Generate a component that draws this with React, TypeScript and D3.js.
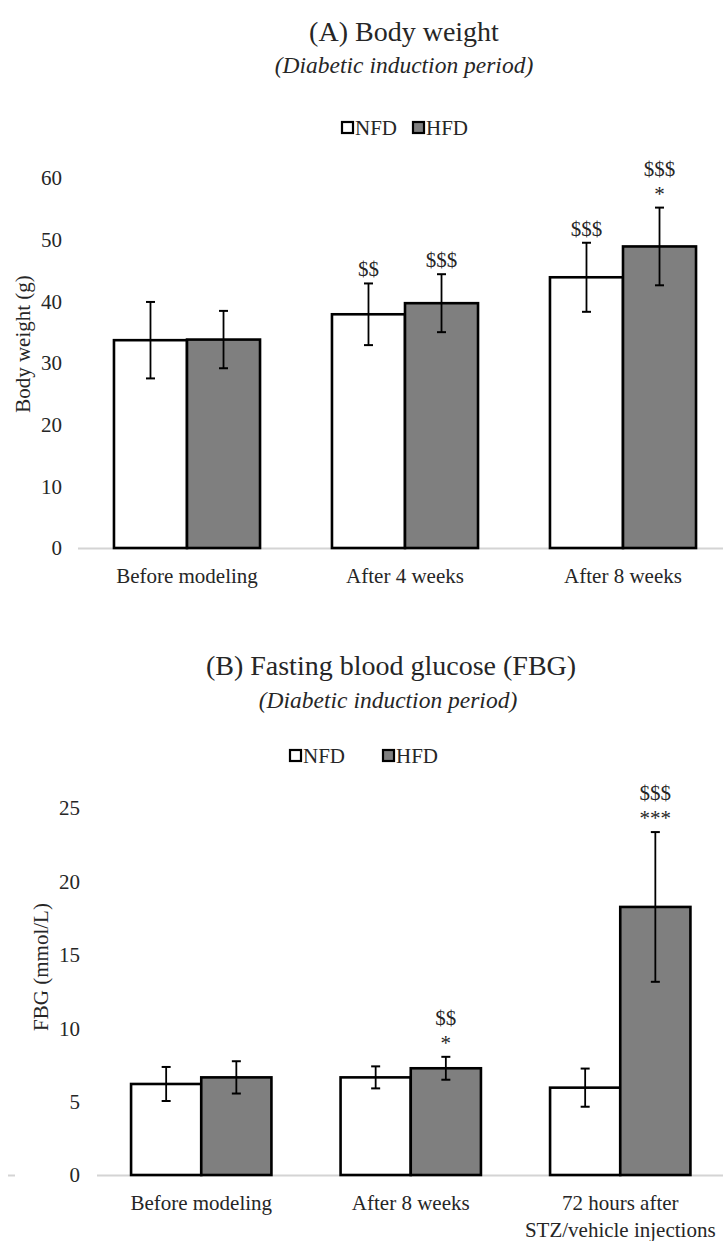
import React from "react";
import * as d3 from "d3";

// ---------- Data ----------
const seriesNames = ["NFD", "HFD"];

const bwCategories = ["Before modeling", "After 4 weeks", "After 8 weeks"];
const bwNFD = [33.7, 37.9, 43.9];
const bwNFDErr = [6.2, 5.0, 5.6];
const bwHFD = [33.8, 39.7, 48.9];
const bwHFDErr = [4.65, 4.7, 6.3];
const bwNFDSig = [[], ["$$"], ["$$$"]];
const bwHFDSig = [[], ["$$$"], ["$$$", "*"]];
const bwTicks = [0, 10, 20, 30, 40, 50, 60];

const fbgCategories = ["Before modeling", "After 8 weeks", "72 hours after\nSTZ/vehicle injections"];
const fbgNFD = [6.2, 6.65, 5.95];
const fbgNFDErr = [1.16, 0.75, 1.3];
const fbgHFD = [6.65, 7.27, 18.26];
const fbgHFDErr = [1.1, 0.78, 5.1];
const fbgNFDSig = [[], [], []];
const fbgHFDSig = [[], ["$$", "*"], ["$$$", "***"]];
const fbgTicks = [0, 5, 10, 15, 20, 25];

const FONT = '"Liberation Serif", "Times New Roman", Times, serif';
const TXT = "#262626";
const FILLS = ["#ffffff", "#7f7f7f"];

type PanelProps = {
  title: string;
  subtitle: string;
  titleX: number;
  titleY: number;
  subtitleX: number;
  subtitleY: number;
  legendX: number[];
  legendY: number;
  yLabel: string;
  yLabelX: number;
  yLabelY: number;
  categories: string[];
  nfd: number[];
  nfdErr: number[];
  hfd: number[];
  hfdErr: number[];
  nfdSig: string[][];
  hfdSig: string[][];
  ticks: number[];
  yMax: number;
  y0: number;
  y1: number;
  x0: number;
  x1: number;
  axisX0: number;
  tickX: number;
  xLabelY: number;
};

function Panel(p: PanelProps) {
  const x = d3
    .scaleBand<string>()
    .domain(p.categories)
    .range([p.x0, p.x1])
    .paddingInner(0.33)
    .paddingOuter(0.165);
  const xs = d3.scaleBand<string>().domain(seriesNames).range([0, x.bandwidth()]).padding(0);
  const y = d3.scaleLinear().domain([0, p.yMax]).range([p.y0, p.y1]);

  const series = [
    { name: "NFD", v: p.nfd, e: p.nfdErr, s: p.nfdSig },
    { name: "HFD", v: p.hfd, e: p.hfdErr, s: p.hfdSig },
  ];

  return (
    <g>
      <text x={p.titleX} y={p.titleY} textAnchor="middle" fontSize={28} fill={TXT} fontFamily={FONT}>
        {p.title}
      </text>
      <text
        x={p.subtitleX}
        y={p.subtitleY}
        textAnchor="middle"
        fontSize={23.5}
        fontStyle="italic"
        fill={TXT}
        fontFamily={FONT}
      >
        {p.subtitle}
      </text>
      {/* legend */}
      {seriesNames.map((n, i) => (
        <g key={n}>
          <rect
            x={p.legendX[i] + 1}
            y={p.legendY - 13}
            width={11}
            height={11}
            fill={FILLS[i]}
            stroke="#000"
            strokeWidth={2.2}
          />
          <text x={p.legendX[i] + 14} y={p.legendY} fontSize={21} fill={TXT} fontFamily={FONT}>
            {n}
          </text>
        </g>
      ))}
      {/* y label */}
      <text
        transform={`translate(${p.yLabelX},${p.yLabelY}) rotate(-90)`}
        textAnchor="middle"
        fontSize={21}
        fill={TXT}
        fontFamily={FONT}
      >
        {p.yLabel}
      </text>
      {/* ticks */}
      {p.ticks.map((t) => (
        <text
          key={t}
          x={p.tickX}
          y={y(t)}
          dy="0.35em"
          textAnchor="end"
          fontSize={21}
          fill={TXT}
          fontFamily={FONT}
        >
          {t}
        </text>
      ))}
      {/* axis line */}
      <line x1={p.axisX0} x2={723} y1={y(0) + 0.5} y2={y(0) + 0.5} stroke="#d4d4d4" strokeWidth={2} />
      {/* bars */}
      {p.categories.map((c, ci) =>
        series.map((s, si) => {
          const bx = (x(c) as number) + (xs(s.name) as number);
          const bw = xs.bandwidth();
          const top = y(s.v[ci]);
          return (
            <rect
              key={c + s.name}
              x={bx}
              y={top}
              width={bw}
              height={y(0) - top}
              fill={FILLS[si]}
              stroke="#000"
              strokeWidth={2.6}
            />
          );
        })
      )}
      {/* error bars + annotations */}
      {p.categories.map((c, ci) =>
        series.map((s) => {
          const cx = (x(c) as number) + (xs(s.name) as number) + xs.bandwidth() / 2;
          const hi = y(s.v[ci] + s.e[ci]);
          const lo = y(s.v[ci] - s.e[ci]);
          const lines = s.s[ci];
          return (
            <g key={"e" + c + s.name}>
              <line x1={cx} x2={cx} y1={hi} y2={lo} stroke="#000" strokeWidth={1.8} />
              <line x1={cx - 4.5} x2={cx + 4.5} y1={hi} y2={hi} stroke="#000" strokeWidth={2} />
              <line x1={cx - 4.5} x2={cx + 4.5} y1={lo} y2={lo} stroke="#000" strokeWidth={2} />
              {lines.map((l, li) => (
                <text
                  key={li}
                  x={cx}
                  y={hi - 7 - (lines.length - 1 - li) * 25}
                  textAnchor="middle"
                  fontSize={21}
                  fill={TXT}
                  fontFamily={FONT}
                >
                  {l}
                </text>
              ))}
            </g>
          );
        })
      )}
      {/* x labels */}
      {p.categories.map((c) => {
        const parts = c.split("\n");
        const cx = (x(c) as number) + x.bandwidth() / 2;
        return (
          <text key={"xl" + c} x={cx} y={p.xLabelY} textAnchor="middle" fontSize={21} fill={TXT} fontFamily={FONT}>
            {parts.map((pt, i) => (
              <tspan key={i} x={cx} dy={i === 0 ? 0 : 27}>
                {pt}
              </tspan>
            ))}
          </text>
        );
      })}
    </g>
  );
}

export default function App() {
  return (
    <svg
      width={723}
      height={1241}
      viewBox="0 0 723 1241"
      style={{ position: "absolute", left: 0, top: 0, background: "#fff" }}
    >
      <rect x={0} y={0} width={723} height={1241} fill="#fff" />
      <Panel
        title="(A) Body weight"
        subtitle="(Diabetic induction period)"
        titleX={404}
        titleY={41}
        subtitleX={404}
        subtitleY={73}
        legendX={[341, 412]}
        legendY={135}
        yLabel="Body weight (g)"
        yLabelX={30}
        yLabelY={344}
        categories={bwCategories}
        nfd={bwNFD}
        nfdErr={bwNFDErr}
        hfd={bwHFD}
        hfdErr={bwHFDErr}
        nfdSig={bwNFDSig}
        hfdSig={bwHFDSig}
        ticks={bwTicks}
        yMax={60}
        y0={548}
        y1={178}
        x0={78}
        x1={732}
        axisX0={78}
        tickX={62}
        xLabelY={583}
      />
      <Panel
        title="(B) Fasting blood glucose (FBG)"
        subtitle="(Diabetic induction period)"
        titleX={391}
        titleY={675}
        subtitleX={388}
        subtitleY={708}
        legendX={[289, 382]}
        legendY={763}
        yLabel="FBG (mmol/L)"
        yLabelX={48}
        yLabelY={967}
        categories={fbgCategories}
        nfd={fbgNFD}
        nfdErr={fbgNFDErr}
        hfd={fbgHFD}
        hfdErr={fbgHFDErr}
        nfdSig={fbgNFDSig}
        hfdSig={fbgHFDSig}
        ticks={fbgTicks}
        yMax={25}
        y0={1175}
        y1={808}
        x0={96.5}
        x1={725}
        axisX0={97}
        tickX={80}
        xLabelY={1210}
      />
      <line x1={8} x2={15} y1={1175.5} y2={1175.5} stroke="#d4d4d4" strokeWidth={2} />
    </svg>
  );
}
